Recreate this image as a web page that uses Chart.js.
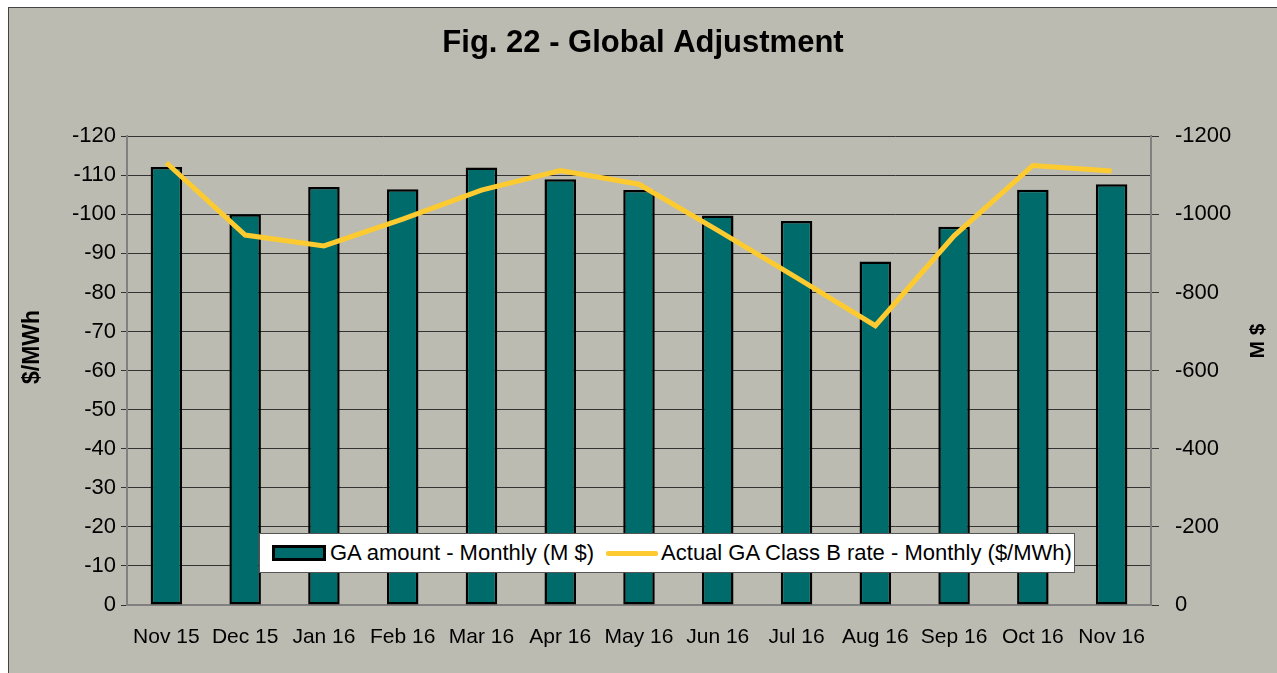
<!DOCTYPE html>
<html>
<head>
<meta charset="utf-8">
<script src="https://cdn.jsdelivr.net/npm/chart.js@4"></script>
<style>
  html, body { margin: 0; padding: 0; background: #fff; }
  #box {
    position: absolute; left: 8px; top: 7px;
    width: 1269px; height: 666px;
    background: #BBBBB1;
    border-left: 1px solid #444; border-top: 1px solid #444;
    box-sizing: border-box;
  }
  #wrap { position: absolute; left: 0; top: 0; width: 1268px; height: 665px; }
  #legend {
    position: absolute; left: 250px; top: 525px; width: 816px; height: 40px;
    background: #fff; border: 1px solid #555; box-sizing: border-box;
    font-family: "Liberation Sans", Arial, sans-serif; font-size: 22px; color: #000;
    display: flex; align-items: center; white-space: nowrap;
  }
  .sw-bar { display: inline-block; width: 48px; height: 10px; background: #006B6B; border: 3px solid #000; margin: 0 4px 0 12px; }
  .sw-line { display: inline-block; width: 52px; height: 5px; background: #FDCB30; border-radius: 2px; margin: 0 3px 0 12px; }
</style>
</head>
<body>
<div id="box">
  <div id="wrap"><canvas id="chartCanvas"></canvas></div>
  <div id="legend">
    <span class="sw-bar"></span><span>GA amount - Monthly (M $)</span>
    <span class="sw-line"></span><span>Actual GA Class B rate - Monthly ($/MWh)</span>
  </div>
</div>
<script>
// --- data ---
const months = ["Nov 15", "Dec 15", "Jan 16", "Feb 16", "Mar 16", "Apr 16", "May 16",
                "Jun 16", "Jul 16", "Aug 16", "Sep 16", "Oct 16", "Nov 16"];
// GA amount, M $ (bars, right axis)
const gaAmount = [-1121, -1000, -1070, -1064, -1120, -1090, -1062,
                  -997, -983, -879, -968, -1063, -1077];
// Actual GA Class B rate, $/MWh (line, left axis)
const gaRate = [-113.2, -94.7, -91.9, -98.8, -106.2, -111.2, -107.7,
                -95.9, -83.8, -71.5, -94.5, -112.5, -111.1];

const FONT = "'Liberation Sans', Arial, sans-serif";

// both axis titles read bottom-to-top and sit a bit above the middle
const axisTitles = {
  id: "axisTitles",
  afterDraw(chart) {
    const ctx = chart.ctx;
    const put = (text, x, y, size) => {
      ctx.save();
      ctx.translate(x, y);
      ctx.rotate(-Math.PI / 2);
      ctx.font = "bold " + size + "px " + FONT;
      ctx.fillStyle = "#000";
      ctx.textAlign = "center";
      ctx.textBaseline = "middle";
      ctx.fillText(text, 0, 0);
      ctx.restore();
    };
    put("$/MWh", 24, 339, 23);
    put("M $", 1249, 333, 21);
  }
};

new Chart(document.getElementById("chartCanvas"), {
  data: {
    labels: months,
    datasets: [
      {
        type: "line",
        label: "Actual GA Class B rate - Monthly ($/MWh)",
        data: gaRate,
        yAxisID: "y",
        borderColor: "#FDCB30",
        borderWidth: 5,
        pointRadius: 0,
        tension: 0,
        order: 1
      },
      {
        type: "bar",
        label: "GA amount - Monthly (M $)",
        data: gaAmount,
        yAxisID: "y1",
        backgroundColor: "#006B6B",
        borderColor: "#000",
        borderWidth: 2.5,
        borderSkipped: false,
        categoryPercentage: 1,
        barPercentage: 0.4,
        order: 2
      }
    ]
  },
  plugins: [axisTitles],
  options: {
    responsive: true,
    maintainAspectRatio: false,
    animation: false,
    layout: { padding: 0 },
    plugins: {
      legend: { display: false },
      tooltip: { enabled: false },
      title: {
        display: true,
        text: "Fig. 22 - Global Adjustment",
        color: "#000",
        font: { family: FONT, size: 31, weight: "bold" },
        padding: { top: 17, bottom: 74 }
      }
    },
    scales: {
      x: {
        grid: { display: false },
        border: { color: "#808080", width: 2 },
        ticks: { color: "#000", font: { family: FONT, size: 21 }, padding: 12, maxRotation: 0, autoSkip: false },
        afterFit(s) { s.height = 68; }
      },
      y: {
        position: "left",
        min: -120, max: 0, reverse: true,
        ticks: { stepSize: 10, color: "#000", font: { family: FONT, size: 22 }, padding: 5, callback: v => String(v) },
        grid: { color: "#333", lineWidth: 1, tickLength: 6 },
        border: { color: "#808080", width: 2 },
        afterFit(s) { s.width = 118; }
      },
      y1: {
        position: "right",
        min: -1200, max: 0, reverse: true,
        ticks: { stepSize: 200, color: "#000", font: { family: FONT, size: 22 }, padding: 16, callback: v => String(v) },
        grid: { drawOnChartArea: false, color: "#333", tickLength: 8 },
        border: { color: "#808080", width: 2 },
        afterFit(s) { s.width = 126; }
      }
    }
  }
});
</script>
</body>
</html>
